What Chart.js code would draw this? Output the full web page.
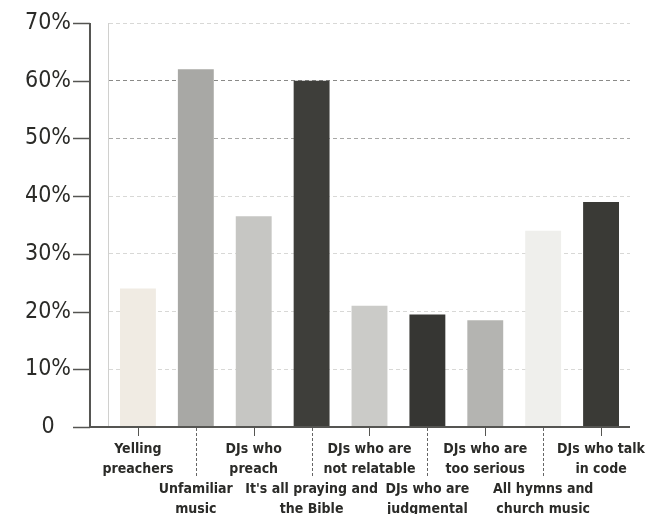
<!DOCTYPE html>
<html>
<head>
<meta charset="utf-8">
<script src="https://cdn.jsdelivr.net/npm/chart.js@4"></script>
<style>
  html, body { margin: 0; padding: 0; background: #fff; }
  #wrap { width: 647px; height: 514px; }
</style>
</head>
<body>
<div id="wrap"><canvas id="chart"></canvas></div>
<script>
// Complaints about Christian radio, % of respondents.
// Even-index labels sit on the top row, odd-index ones drop to a second row.
const CATEGORIES = [
  ["Yelling", "preachers"],
  ["Unfamiliar", "music"],
  ["DJs who", "preach"],
  ["It's all praying and", "the Bible"],
  ["DJs who are", "not relatable"],
  ["DJs who are", "judgmental"],
  ["DJs who are", "too serious"],
  ["All hymns and", "church music"],
  ["DJs who talk", "in code"],
];
const VALUES = [24, 62, 36.5, 60, 21, 19.5, 18.5, 34, 39];
const Y_TICKS = [0, 10, 20, 30, 40, 50, 60, 70];

const BAR_COLORS = ["#f0ebe3", "#a8a8a5", "#c6c6c3", "#3e3e3a", "#cbcbc8",
                    "#363633", "#b4b4b1", "#efefec", "#3a3a36"];
const INK = "#2b2b28", AXIS = "#555552";
const FONT = "'DejaVu Sans Condensed', 'Liberation Sans Narrow', 'Arial Narrow', sans-serif";
const FRONT = 19;   // the front axis sits this far left of the back wall (3D look)

// second-row labels get blank lines on top so they drop below the first row
const labels = CATEGORIES.map((c, i) => i % 2 ? ["", ""].concat(c) : c);

// front y axis with its ticks, floor line, and the separators under the labels
const frame = {
  id: "frame",
  afterDraw(chart) {
    const { ctx, chartArea: a, scales: { x, y } } = chart;
    const fx = a.left - FRONT;
    ctx.save();
    ctx.strokeStyle = AXIS;
    ctx.lineWidth = 2;
    ctx.beginPath();
    ctx.moveTo(fx, y.getPixelForValue(70));
    ctx.lineTo(fx, a.bottom);
    ctx.lineTo(a.right, a.bottom);
    ctx.stroke();
    ctx.lineWidth = 1.5;
    Y_TICKS.forEach(v => {
      const py = Math.round(y.getPixelForValue(v)) + 0.5;
      ctx.beginPath();
      ctx.moveTo(fx - 17, py);
      ctx.lineTo(fx, py);
      ctx.stroke();
    });
    ctx.lineWidth = 1;
    CATEGORIES.forEach((c, i) => {
      const px = Math.round(x.getPixelForTick(i)) + 0.5;
      ctx.strokeStyle = i % 2 ? "#666" : AXIS;
      ctx.setLineDash(i % 2 ? [3, 2] : []);
      ctx.beginPath();
      ctx.moveTo(px, a.bottom + 1);
      ctx.lineTo(px, a.bottom + (i % 2 ? 50 : 9));
      ctx.stroke();
    });
    ctx.restore();
  }
};

new Chart(document.getElementById("chart"), {
  type: "bar",
  data: {
    labels,
    datasets: [{
      data: VALUES,
      backgroundColor: BAR_COLORS,
      borderWidth: 0,
      categoryPercentage: 1,
      barPercentage: 0.62,
    }]
  },
  options: {
    responsive: true, maintainAspectRatio: false, animation: false,
    layout: { padding: { top: 23, right: 17, left: -13, bottom: 0 } },
    plugins: { legend: { display: false }, tooltip: { enabled: false } },
    scales: {
      y: {
        min: 0, max: 70,
        afterBuildTicks: s => { s.ticks = Y_TICKS.map(v => ({ value: v })); },
        afterFit: s => { s.paddingTop = 0; s.paddingBottom = 0; },
        grid: {
          drawTicks: false, lineWidth: 1,
          color: c => c.tick.value === 60 ? "#8a8a88" : c.tick.value === 50 ? "#a8a8a6" : "#d8d8d6"
        },
        border: { color: "#d0d0ce", width: 1, dash: [4, 3] },
        ticks: {
          color: INK, padding: 38, crossAlign: "center",
          font: { family: FONT, size: 23 },
          callback: v => v === 0 ? "0" : v + "%"
        }
      },
      x: {
        afterFit: s => { s.paddingLeft = 0; s.paddingRight = 0; s.height = 87; },
        grid: { display: false, drawTicks: false },
        border: { display: false },
        ticks: {
          color: INK, autoSkip: false, maxRotation: 0, minRotation: 0, padding: 12,
          font: { family: FONT, size: 14, weight: "bold", lineHeight: "20px" }
        }
      }
    }
  },
  plugins: [frame]
});
</script>
</body>
</html>
